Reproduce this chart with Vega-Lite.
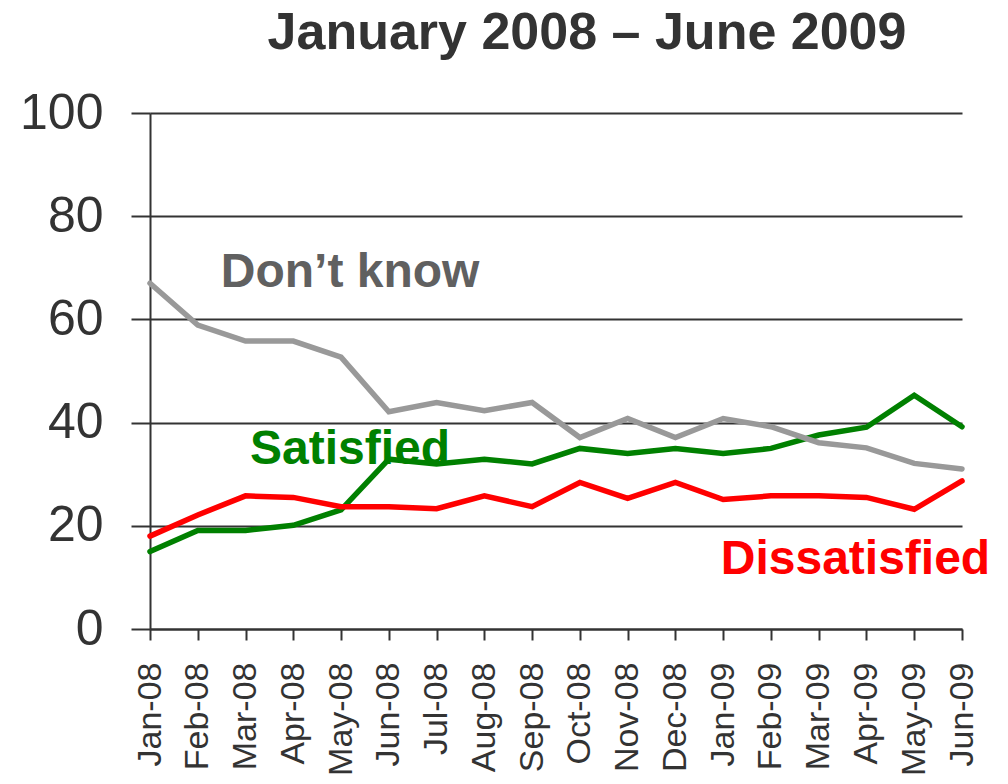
{
  "$schema": "https://vega.github.io/schema/vega-lite/v6.json",
  "autosize": {"type": "none"},
  "width": 812,
  "height": 516,
  "padding": {"left": 150, "top": 113, "right": 46, "bottom": 155},
  "background": "white",
  "title": {
    "text": "January 2008 – June 2009",
    "font": "Liberation Sans",
    "fontSize": 52,
    "fontWeight": "bold",
    "color": "#333333",
    "anchor": "middle",
    "dx": 31,
    "offset": 28
  },
  "config": {
    "view": {"stroke": null},
    "axis": {"labelFont": "Liberation Sans", "labelColor": "#333333", "domainColor": "#333333", "tickColor": "#333333", "gridColor": "#333333", "domainWidth": 2, "tickWidth": 2, "gridWidth": 2, "title": null}
  },
  "datasets": {
    "series": [
      {"month": "Jan-08", "series": "Satisfied", "value": 15.0},
      {"month": "Feb-08", "series": "Satisfied", "value": 19.1},
      {"month": "Mar-08", "series": "Satisfied", "value": 19.1},
      {"month": "Apr-08", "series": "Satisfied", "value": 20.1},
      {"month": "May-08", "series": "Satisfied", "value": 23.1},
      {"month": "Jun-08", "series": "Satisfied", "value": 32.9},
      {"month": "Jul-08", "series": "Satisfied", "value": 32.0},
      {"month": "Aug-08", "series": "Satisfied", "value": 32.9},
      {"month": "Sep-08", "series": "Satisfied", "value": 32.0},
      {"month": "Oct-08", "series": "Satisfied", "value": 35.0},
      {"month": "Nov-08", "series": "Satisfied", "value": 34.0},
      {"month": "Dec-08", "series": "Satisfied", "value": 35.0},
      {"month": "Jan-09", "series": "Satisfied", "value": 34.0},
      {"month": "Feb-09", "series": "Satisfied", "value": 35.0},
      {"month": "Mar-09", "series": "Satisfied", "value": 37.6},
      {"month": "Apr-09", "series": "Satisfied", "value": 39.1},
      {"month": "May-09", "series": "Satisfied", "value": 45.3},
      {"month": "Jun-09", "series": "Satisfied", "value": 39.2},
      {"month": "Jan-08", "series": "Dissatisfied", "value": 18.0},
      {"month": "Feb-08", "series": "Dissatisfied", "value": 22.1},
      {"month": "Mar-08", "series": "Dissatisfied", "value": 25.8},
      {"month": "Apr-08", "series": "Dissatisfied", "value": 25.5},
      {"month": "May-08", "series": "Dissatisfied", "value": 23.7},
      {"month": "Jun-08", "series": "Dissatisfied", "value": 23.7},
      {"month": "Jul-08", "series": "Dissatisfied", "value": 23.3},
      {"month": "Aug-08", "series": "Dissatisfied", "value": 25.8},
      {"month": "Sep-08", "series": "Dissatisfied", "value": 23.7},
      {"month": "Oct-08", "series": "Dissatisfied", "value": 28.4},
      {"month": "Nov-08", "series": "Dissatisfied", "value": 25.3},
      {"month": "Dec-08", "series": "Dissatisfied", "value": 28.4},
      {"month": "Jan-09", "series": "Dissatisfied", "value": 25.1},
      {"month": "Feb-09", "series": "Dissatisfied", "value": 25.8},
      {"month": "Mar-09", "series": "Dissatisfied", "value": 25.8},
      {"month": "Apr-09", "series": "Dissatisfied", "value": 25.5},
      {"month": "May-09", "series": "Dissatisfied", "value": 23.2},
      {"month": "Jun-09", "series": "Dissatisfied", "value": 28.7},
      {"month": "Jan-08", "series": "Don’t know", "value": 67.0},
      {"month": "Feb-08", "series": "Don’t know", "value": 58.9},
      {"month": "Mar-08", "series": "Don’t know", "value": 55.8},
      {"month": "Apr-08", "series": "Don’t know", "value": 55.8},
      {"month": "May-08", "series": "Don’t know", "value": 52.7},
      {"month": "Jun-08", "series": "Don’t know", "value": 42.1},
      {"month": "Jul-08", "series": "Don’t know", "value": 43.9},
      {"month": "Aug-08", "series": "Don’t know", "value": 42.3},
      {"month": "Sep-08", "series": "Don’t know", "value": 43.9},
      {"month": "Oct-08", "series": "Don’t know", "value": 37.1},
      {"month": "Nov-08", "series": "Don’t know", "value": 40.8},
      {"month": "Dec-08", "series": "Don’t know", "value": 37.1},
      {"month": "Jan-09", "series": "Don’t know", "value": 40.8},
      {"month": "Feb-09", "series": "Don’t know", "value": 39.2},
      {"month": "Mar-09", "series": "Don’t know", "value": 36.1},
      {"month": "Apr-09", "series": "Don’t know", "value": 35.1},
      {"month": "May-09", "series": "Don’t know", "value": 32.1},
      {"month": "Jun-09", "series": "Don’t know", "value": 31.0}
    ],
    "labels": [
      {"month": "May-08", "series": "Don’t know", "value": 69.0},
      {"month": "May-08", "series": "Satisfied", "value": 34.7},
      {"month": "Apr-09", "series": "Dissatisfied", "value": 13.4}
    ]
  },
  "layer": [
    {
      "data": {"name": "series"},
      "mark": {"type": "line", "strokeWidth": 5.5, "strokeCap": "round", "strokeJoin": "miter"},
      "encoding": {
        "x": {
          "field": "month", "type": "ordinal", "sort": null,
          "scale": {"type": "point", "padding": 0},
          "axis": {"labelAngle": -90, "labelFontSize": 34, "tickSize": 11, "labelPadding": 22, "labelAlign": "right", "labelBaseline": "middle", "grid": false, "labelOverlap": false}
        },
        "y": {
          "field": "value", "type": "quantitative",
          "scale": {"domain": [0, 100]},
          "axis": {"values": [0, 20, 40, 60, 80, 100], "labelFontSize": 50, "tickSize": 19, "labelPadding": 28, "grid": true}
        },
        "color": {
          "field": "series", "type": "nominal",
          "scale": {"domain": ["Don’t know", "Dissatisfied", "Satisfied"], "range": ["#999999", "#ff0000", "#008000"]},
          "legend": null
        }
      }
    },
    {
      "data": {"name": "labels"},
      "transform": [{"filter": "datum.series !== 'Dissatisfied'"}],
      "mark": {"type": "text", "font": "Liberation Sans", "fontSize": 48, "fontWeight": "bold", "align": "center", "baseline": "middle", "dx": 9},
      "encoding": {
        "x": {"field": "month", "type": "ordinal", "sort": null},
        "y": {"field": "value", "type": "quantitative"},
        "text": {"field": "series"},
        "color": {
          "field": "series", "type": "nominal",
          "scale": {"domain": ["Don’t know", "Satisfied", "Dissatisfied"], "range": ["#606060", "#008000", "#ff0000"]},
          "legend": null
        }
      }
    },
    {
      "data": {"name": "labels"},
      "transform": [{"filter": "datum.series === 'Dissatisfied'"}],
      "mark": {"type": "text", "font": "Liberation Sans", "fontSize": 48, "fontWeight": "bold", "align": "center", "baseline": "middle", "dx": -11},
      "encoding": {
        "x": {"field": "month", "type": "ordinal", "sort": null},
        "y": {"field": "value", "type": "quantitative"},
        "text": {"field": "series"},
        "color": {
          "field": "series", "type": "nominal",
          "scale": {"domain": ["Don’t know", "Satisfied", "Dissatisfied"], "range": ["#606060", "#008000", "#ff0000"]},
          "legend": null
        }
      }
    }
  ],
  "resolve": {"scale": {"color": "independent"}}
}
